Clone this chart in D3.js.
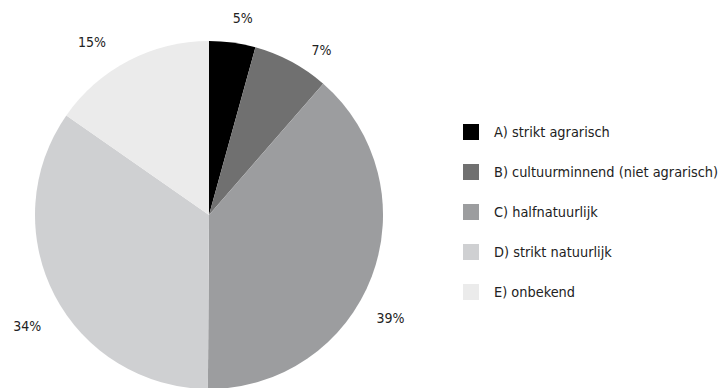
<!DOCTYPE html>
<html>
<head>
<meta charset="utf-8">
<script src="https://cdn.jsdelivr.net/npm/d3@7"></script>
<style>
  html, body { margin: 0; padding: 0; background: #fff; }
  svg { display: block; }
  text { font-family: "DejaVu Sans Condensed", "Liberation Sans Narrow", sans-serif; fill: #222; }
</style>
</head>
<body>
<svg id="chart"></svg>
<script>
// categories, shares and printed labels
const categories = [
  "A) strikt agrarisch",
  "B) cultuurminnend (niet agrarisch)",
  "C) halfnatuurlijk",
  "D) strikt natuurlijk",
  "E) onbekend"
];
const shares = [4.3, 7.1, 38.7, 34.6, 15.3];
const pctLabels = ["5%", "7%", "39%", "34%", "15%"];
const colors = ["#000000", "#707070", "#9c9d9f", "#cfd0d2", "#ebebeb"];

const width = 720, height = 388;
const cx = 209, cy = 215, radius = 174;

const svg = d3.select("#chart")
  .attr("width", width)
  .attr("height", height);

const pie = d3.pie().sort(null).value(d => d);
const arcs = pie(shares);

const arc = d3.arc().innerRadius(0).outerRadius(radius);

const g = svg.append("g").attr("transform", `translate(${cx},${cy})`);

g.selectAll("path.slice")
  .data(arcs)
  .enter()
  .append("path")
  .attr("class", "slice")
  .attr("d", arc)
  .attr("fill", (d, i) => colors[i]);

// label placement: along the bisector, nudged a little like the original
const labelTurn = [2, 6, 9, -4, -6.5];   // degrees
const labelRad = [200, 200, 209, 213, 209];
g.selectAll("text.pct")
  .data(arcs)
  .enter()
  .append("text")
  .attr("class", "pct")
  .attr("x", (d, i) => {
    const a = (d.startAngle + d.endAngle) / 2 + labelTurn[i] * Math.PI / 180;
    return Math.sin(a) * labelRad[i];
  })
  .attr("y", (d, i) => {
    const a = (d.startAngle + d.endAngle) / 2 + labelTurn[i] * Math.PI / 180;
    return -Math.cos(a) * labelRad[i];
  })
  .attr("dy", "0.35em")
  .attr("text-anchor", "middle")
  .style("font-size", "14px")
  .text((d, i) => pctLabels[i]);

// legend
const legend = svg.append("g").attr("transform", "translate(463,124)");
const rowY = d3.scalePoint().domain(d3.range(categories.length)).range([0, 160]);

const row = legend.selectAll("g.row")
  .data(categories)
  .enter()
  .append("g")
  .attr("class", "row")
  .attr("transform", (d, i) => `translate(0,${rowY(i)})`);

row.append("rect")
  .attr("width", 16)
  .attr("height", 16)
  .attr("fill", (d, i) => colors[i]);

row.append("text")
  .attr("x", 31)
  .attr("y", 8)
  .attr("dy", "0.35em")
  .style("font-size", "14.4px")
  .text(d => d);
</script>
</body>
</html>
